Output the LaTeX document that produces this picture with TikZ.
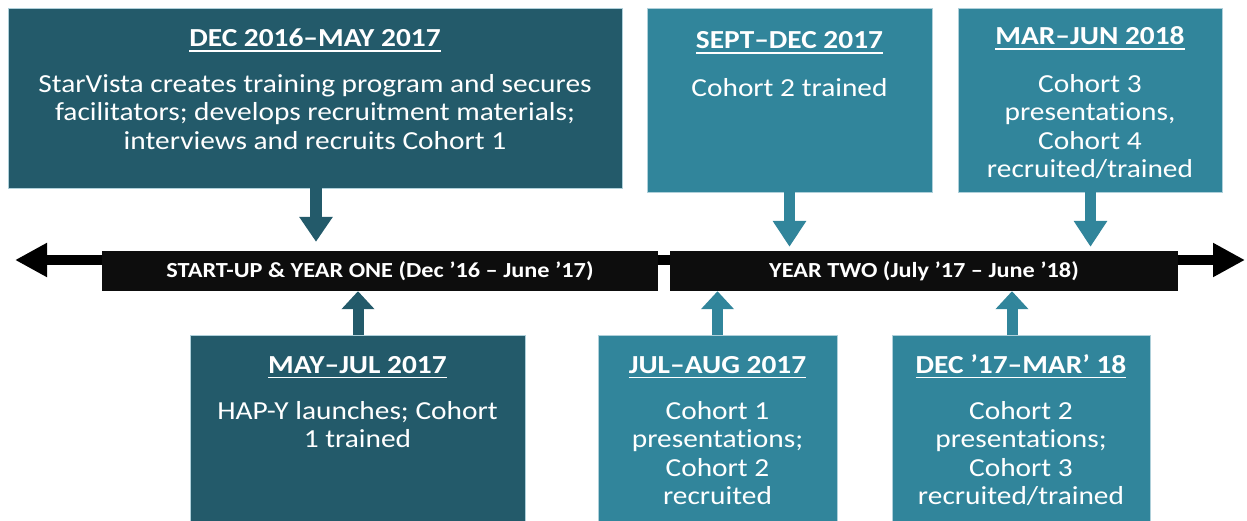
\documentclass[tikz,border=0pt]{standalone}
\usepackage{fontspec}
\setmainfont{Carlito}[FakeStretch=1.13, Ligatures=NoCommon]
\newcommand{\myul}[1]{\setbox0\hbox{#1}\rlap{\rule[-5.3pt]{\wd0}{1.8pt}}\box0}
\usetikzlibrary{arrows.meta}
\definecolor{darkteal}{RGB}{35,90,106}
\definecolor{lightteal}{RGB}{49,133,155}
\definecolor{barblack}{RGB}{13,13,13}
\definecolor{edgeblue}{RGB}{175,208,218}
\begin{document}
\begin{tikzpicture}[x=1pt,y=-1pt,
  evbox/.style={rectangle, inner sep=0pt, draw=edgeblue, line width=0.6pt},
  dkbox/.style={evbox, fill=darkteal},
  ltbox/.style={evbox, fill=lightteal},
  title/.style={anchor=base, inner sep=0pt, text=white, font=\fontsize{26}{28.5}\selectfont\bfseries},
  body/.style={anchor=north, inner sep=0pt, text=white, align=center, font=\fontsize{26}{28.5}\selectfont},
  bar/.style={rectangle, fill=barblack, inner sep=0pt, text=white, minimum height=40pt,
    font=\fontsize{21.5}{24}\selectfont\bfseries, text height=16pt, text depth=3.4pt},
  downA/.style={line width=12pt, -{Triangle[length=25pt,width=32pt]}},
  downB/.style={line width=11pt, -{Triangle[length=26pt,width=32pt]}},
  upA/.style={line width=11pt, -{Triangle[length=18pt,width=32pt]}},
  timeline/.style={line width=10pt, {Triangle[length=32pt,width=32pt]}-{Triangle[length=32pt,width=32pt]}}
]
\useasboundingbox (0,0) rectangle (1247,521);

% timeline axis
\coordinate (tlL) at (15,260);
\coordinate (tlR) at (1245,260);
\draw[timeline] (tlL) -- (tlR);

% period bars
\node[bar, minimum width=556pt] (bar1) at (380,271) {START-UP \& YEAR ONE (Dec ’16 – June ’17)};
\node[bar, minimum width=508pt] (bar2) at (924,271) {YEAR TWO (July ’17 – June ’18)};

% top boxes
\node[dkbox, minimum width=614pt, minimum height=180pt] (b1) at (315,98) {};
\node[ltbox, minimum width=285pt, minimum height=184pt] (b2) at (789.5,100) {};
\node[ltbox, minimum width=264pt, minimum height=184pt] (b3) at (1090,100) {};

% bottom boxes
\node[dkbox, minimum width=335pt, minimum height=187pt] (b4) at (357.5,428.5) {};
\node[ltbox, minimum width=239pt, minimum height=187pt] (b5) at (717.5,428.5) {};
\node[ltbox, minimum width=258pt, minimum height=187pt] (b6) at (1021,428.5) {};

% texts
\node[title] (t1) at (315,46.5) {\myul{DEC 2016–MAY 2017}};
\node[body] (x1) at (315,72.05) {\strut StarVista creates training program and secures\\facilitators; develops recruitment materials;\\interviews and recruits Cohort 1};

\node[title] (t2) at (789.5,49) {\myul{SEPT–DEC 2017}};
\node[body] (x2) at (789.5,76.05) {\strut Cohort 2 trained};

\node[title] (t3) at (1090,45) {\myul{MAR–JUN 2018}};
\node[body] (x3) at (1090,72.05) {\strut Cohort 3\\presentations,\\Cohort 4\\recruited/trained};

\node[title] (t4) at (357.5,373) {\myul{MAY–JUL 2017}};
\node[body] (x4) at (357.5,399.05) {\strut HAP-Y launches; Cohort\\1 trained};

\node[title] (t5) at (717.5,373) {\myul{JUL–AUG 2017}};
\node[body] (x5) at (717.5,399.05) {\strut Cohort 1\\presentations;\\Cohort 2\\recruited};

\node[title] (t6) at (1021,373) {\myul{DEC ’17–MAR’ 18}};
\node[body] (x6) at (1021,399.05) {\strut Cohort 2\\presentations;\\Cohort 3\\recruited/trained};

% block arrows
\draw[downA, darkteal, shorten >=9pt] ([xshift=1pt]b1.south) -- ([xshift=1pt]b1.south |- bar1.north);
\draw[downB, lightteal, shorten >=4pt] (b2.south) -- (b2.south |- bar2.north);
\draw[downB, lightteal, shorten >=4pt] ([xshift=0.5pt]b3.south) -- ([xshift=0.5pt]b3.south |- bar2.north);
\draw[upA, darkteal] ([xshift=0.5pt]b4.north) -- ([xshift=0.5pt]b4.north |- bar1.south);
\draw[upA, lightteal] (b5.north) -- (b5.north |- bar2.south);
\draw[upA, lightteal] ([xshift=-9pt]b6.north) -- ([xshift=-9pt]b6.north |- bar2.south);
\end{tikzpicture}
\end{document}
